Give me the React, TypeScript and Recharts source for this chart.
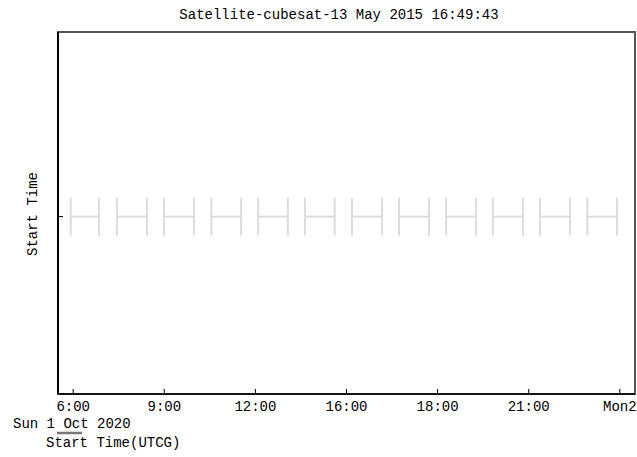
import React from 'react';
import { ScatterChart, Scatter, XAxis, YAxis, ErrorBar, ReferenceArea } from 'recharts';

const titleText = 'Satellite-cubesat-13 May 2015 16:49:43';
const yLabel = 'Start Time';
const dateLabel = 'Sun 1 Oct 2020';
const xLabel = 'Start Time(UTCG)';

// hours since Sun 1 Oct 2020 00:00
const xTickValues = [6, 9, 12, 15, 18, 21, 24];
const xTickLabels = ['6:00', '9:00', '12:00', '16:00', '18:00', '21:00', 'Mon2'];
const xDomain = [5.5, 24.5];
const yDomain = [-0.98, 1.02];

const intervalStarts = [5.92, 7.44, 8.99, 10.55, 12.09, 13.63, 15.18, 16.73, 18.28, 19.82, 21.37, 22.93];
const intervalEnds = [6.85, 8.43, 9.98, 11.53, 13.07, 14.61, 16.17, 17.72, 19.26, 20.81, 22.36, 23.91];

const data = intervalStarts.map((s, i) => {
  const e = intervalEnds[i];
  const half = (e - s) / 2;
  return { x: s + half, y: 0, err: [half, half] };
});

const FONT = "'Liberation Mono', 'DejaVu Sans Mono', monospace";

export default function App() {
  const tickFmt = (v: number) => {
    const idx = xTickValues.indexOf(v);
    return idx >= 0 ? xTickLabels[idx] : '';
  };
  return (
    <div style={{ position: 'absolute', left: 0, top: 0, width: 637, height: 457, background: '#fff' }}>
      <ScatterChart width={637} height={457} margin={{ top: 32, right: 2, bottom: 0, left: 0 }}>
        <ReferenceArea
          x1={xDomain[0]}
          x2={xDomain[1]}
          y1={yDomain[0]}
          y2={yDomain[1]}
          fill="none"
          fillOpacity={0}
          stroke="#555"
          strokeWidth={2}
          ifOverflow="visible"
        />
        <XAxis
          dataKey="x"
          type="number"
          domain={xDomain}
          allowDataOverflow
          ticks={xTickValues}
          interval={0}
          tickFormatter={tickFmt}
          height={63}
          tickSize={-5}
          tickMargin={12}
          axisLine={{ stroke: '#000', strokeWidth: 1.5 }}
          tickLine={{ stroke: '#000' }}
          tick={{ fill: '#000', fontFamily: FONT, fontSize: 14 }}
        />
        <YAxis
          dataKey="y"
          type="number"
          domain={yDomain}
          allowDataOverflow
          ticks={[0]}
          width={58}
          tickSize={-5}
          tickFormatter={() => ''}
          axisLine={{ stroke: '#000', strokeWidth: 2 }}
          tickLine={{ stroke: '#000' }}
        />
        <Scatter data={data} isAnimationActive={false} shape={() => <g />}>
          <ErrorBar
            dataKey="err"
            direction="x"
            width={19}
            stroke="#dcdcdc"
            strokeWidth={2}
            isAnimationActive={false}
          />
        </Scatter>
      </ScatterChart>
      <svg
        width={637}
        height={457}
        style={{ position: 'absolute', left: 0, top: 0, pointerEvents: 'none' }}
      >
        <text x={339} y={19} textAnchor="middle" fontFamily={FONT} fontSize={14} fill="#000">
          {titleText}
        </text>
        <text
          x={37}
          y={214}
          textAnchor="middle"
          transform="rotate(-90, 37, 214)"
          fontFamily={FONT}
          fontSize={14}
          fill="#000"
        >
          {yLabel}
        </text>
        <text x={13} y={428} fontFamily={FONT} fontSize={14} fill="#000">
          {dateLabel}
        </text>
        <line x1={57} y1={433} x2={82} y2={433} stroke="#777" strokeWidth={2.5} />
        <text x={46} y={447} fontFamily={FONT} fontSize={14} fill="#000">
          {xLabel}
        </text>
      </svg>
    </div>
  );
}
